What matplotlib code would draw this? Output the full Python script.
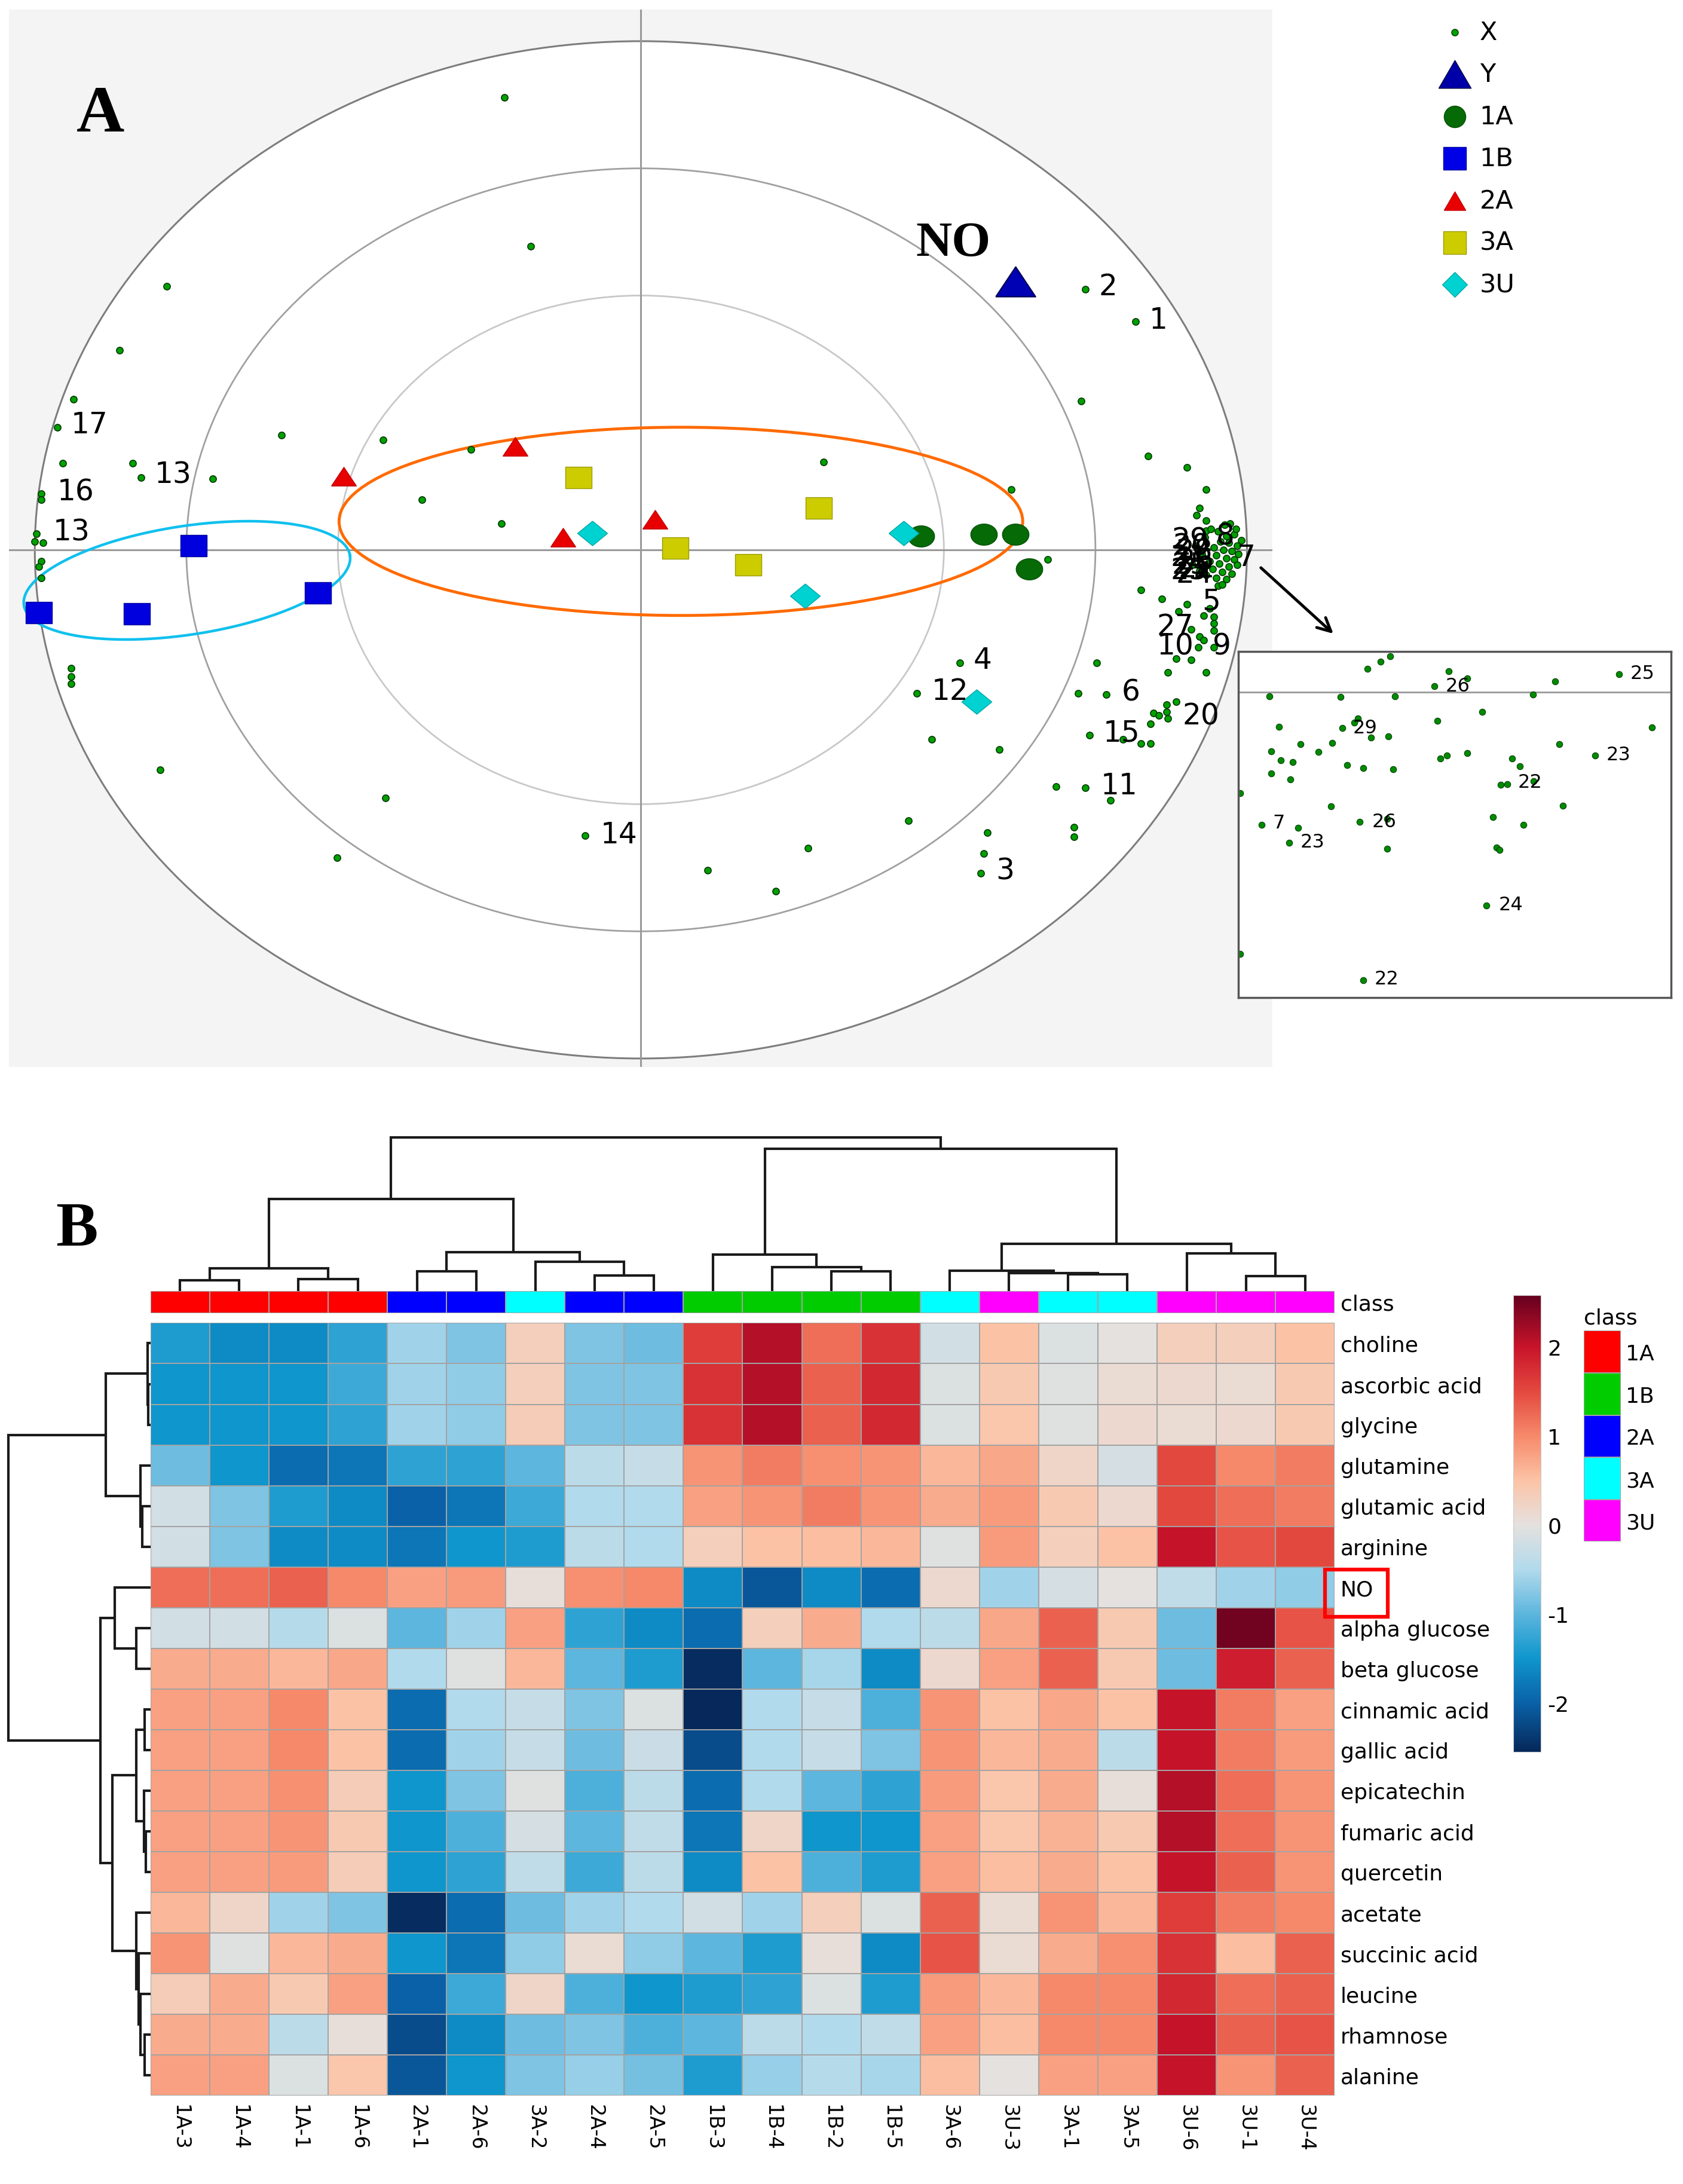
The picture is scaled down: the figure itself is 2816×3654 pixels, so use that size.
"""Loading plot (A) and clustered heatmap (B)."""

import numpy as np
import matplotlib
matplotlib.use("Agg")
import matplotlib.pyplot as plt
from matplotlib.patches import Ellipse, Rectangle
from matplotlib.colors import LinearSegmentedColormap, ListedColormap, Normalize
from matplotlib.cm import ScalarMappable
from matplotlib import font_manager

plt.rcParams["axes.unicode_minus"] = False

# ── Panel A: loadings of X variables (p1, p2) ──────────────────────────
x_var_p1 = [
    -0.225, -0.182, -0.782, -0.860, -0.936, -0.963, -0.954, -0.839, -0.825, -0.706,
    -0.593, -0.425, -0.989, -0.989, -0.997, -1.000, -0.986, -0.989, -0.993, -0.989,
    -0.940, -0.940, -0.940, -0.793, -0.361, -0.280, -0.230, -0.421, -0.501, -0.092,
    0.110, 0.223, 0.276, 0.301, 0.611, 0.671, 0.733, 0.816, 0.726, 0.837,
    0.901, 0.933, 0.922, 0.917, 0.933, 0.933, 0.526, 0.455, 0.480, 0.591,
    0.441, 0.572, 0.566, 0.561, 0.715, 0.715, 0.685, 0.733, 0.775, 0.740,
    0.795, 0.825, 0.841, 0.841, 0.846, 0.855, 0.867, 0.869, 0.867, 0.883,
    0.722, 0.768, 0.752, 0.869, 0.933, 0.883, 0.908, 0.920, 0.945, 0.922,
    0.929, 0.908, 0.945, 0.945, 0.945, 0.952, 0.959, 0.825, 0.860, 0.901,
    0.887, 0.929, 0.938,
    0.963, 0.972, 0.952, 0.966, 0.979, 0.956, 0.970, 0.984, 0.945, 0.961,
    0.975, 0.986, 0.949, 0.966, 0.979, 0.938, 0.954, 0.970, 0.984, 0.943,
    0.959, 0.975, 0.933, 0.949, 0.966, 0.922, 0.910, 0.926, 0.915, 0.931,
    0.940, 0.982, 0.991,
]
x_var_p2 = [
    0.890, 0.597, 0.518, 0.392, 0.296, 0.241, 0.170, 0.170, 0.142, 0.140,
    0.225, 0.216, 0.110, 0.099, 0.032, 0.016, 0.014, -0.022, -0.033, -0.055,
    -0.233, -0.249, -0.263, -0.433, 0.099, 0.197, 0.052, -0.488, -0.605, -0.562,
    -0.630, -0.671, -0.586, 0.173, 0.118, -0.019, 0.512, 0.449, 0.293, 0.184,
    0.162, 0.118, 0.082, 0.068, 0.058, 0.038, -0.222, -0.282, -0.373, -0.392,
    -0.532, -0.556, -0.597, -0.636, -0.545, -0.564, -0.466, -0.468, -0.493, -0.364,
    -0.373, -0.381, -0.381, -0.342, -0.321, -0.326, -0.318, -0.332, -0.304, -0.299,
    -0.282, -0.285, -0.222, -0.241, -0.241, -0.214, -0.216, -0.192, -0.192, -0.170,
    -0.178, -0.156, -0.132, -0.145, -0.159, -0.071, -0.068, -0.079, -0.096, -0.107,
    -0.121, -0.129, -0.115,
    0.049, 0.052, 0.036, 0.027, 0.030, 0.016, 0.014, 0.008, 0.005, 0.000,
    -0.003, -0.008, -0.011, -0.016, -0.019, -0.022, -0.027, -0.033, -0.030, -0.038,
    -0.044, -0.047, -0.049, -0.055, -0.058, -0.041, -0.030, -0.008, 0.008, 0.025,
    0.041, 0.041, 0.019,
]

var_labels = ["17", "13", "16", "13", "2", "1", "4", "12", "6", "15", "20", "11",
              "14", "3", "27", "10", "9", "5", "7", "8", "29", "20", "28", "21",
              "26", "25", "22", "23", "24"]
var_label_p1 = [-0.940, -0.802, -0.963, -0.970, 0.756, 0.839, 0.549, 0.480, 0.793,
                0.763, 0.894, 0.759, -0.067, 0.586, 0.851, 0.851, 0.943, 0.926,
                0.984, 0.949, 0.876, 0.878, 0.883, 0.874, 0.885, 0.876, 0.887,
                0.874, 0.883]
var_label_p2 = [0.247, 0.148, 0.115, 0.036, 0.518, 0.452, -0.216, -0.277, -0.279,
                -0.359, -0.326, -0.463, -0.559, -0.630, -0.151, -0.189, -0.189,
                -0.101, -0.014, 0.027, 0.019, 0.008, -0.003, -0.014, -0.022,
                -0.030, -0.036, -0.041, -0.047]

# Y variable (NO)
y_p1, y_p2 = 0.618, 0.527

# class scores
g1a_p1 = [0.462, 0.566, 0.618, 0.641]
g1a_p2 = [0.027, 0.030, 0.030, -0.038]
g1b_p1 = [-0.738, -0.993, -0.832, -0.533]
g1b_p2 = [0.008, -0.123, -0.126, -0.085]
g2a_p1 = [-0.490, -0.207, -0.129, 0.023]
g2a_p2 = [0.145, 0.203, 0.025, 0.060]
g3a_p1 = [-0.103, 0.057, 0.177, 0.294]
g3a_p2 = [0.142, 0.003, -0.030, 0.082]
g3u_p1 = [-0.080, 0.271, 0.434, 0.554]
g3u_p2 = [0.033, -0.090, 0.033, -0.299]

# zoomed inset of the right-hand cluster
ins_p1 = [0.9350, 0.9328, 0.9298, 0.9486, 0.9529, 0.9732, 0.9879, 0.9453, 0.9071, 0.9236,
          0.9361, 0.9680, 0.9563, 0.9955, 0.9459, 0.9093, 0.9240, 0.9276, 0.9268, 0.9306,
          0.9346, 0.9143, 0.9216, 0.9075, 0.9184, 0.9097, 0.9125, 0.9251, 0.9288, 0.9358,
          0.9075, 0.9120, 0.9481, 0.9467, 0.9529, 0.9632, 0.9650, 0.9742, 0.9824, 0.9606,
          0.9621, 0.9682, 0.9003, 0.9214, 0.9750, 0.9053, 0.9138, 0.9117, 0.9280, 0.9343,
          0.9588, 0.9658, 0.9343, 0.9596, 0.9603, 0.9573, 0.9003, 0.9288]
ins_p2 = [0.0104, 0.0088, 0.0067, 0.0061, 0.0040, 0.0031, 0.0052, 0.0017, -0.0011, -0.0014,
          -0.0011, -0.0006, -0.0056, -0.0101, -0.0083, -0.0099, -0.0104, -0.0076, -0.0087, -0.0131,
          -0.0127, -0.0150, -0.0146, -0.0171, -0.0173, -0.0197, -0.0201, -0.0210, -0.0219, -0.0222,
          -0.0235, -0.0252, -0.0183, -0.0192, -0.0175, -0.0192, -0.0213, -0.0150, -0.0183, -0.0268,
          -0.0265, -0.0256, -0.0291, -0.0330, -0.0327, -0.0382, -0.0391, -0.0435, -0.0375, -0.0366,
          -0.0361, -0.0382, -0.0451, -0.0449, -0.0456, -0.0616, -0.0756, -0.0831]
ins_labels = ["25", "26", "29", "23", "22", "7", "26", "23", "24", "22"]
ins_label_p1 = [0.9905, 0.9479, 0.9264, 0.9850, 0.9646, 0.9079, 0.9308, 0.9142, 0.9601, 0.9314]
ins_label_p2 = [0.0054, 0.0019, -0.0103, -0.0180, -0.0259, -0.0377, -0.0373, -0.0432, -0.0613, -0.0828]

# ── Panel B: heatmap ───────────────────────────────────────────────────
metabolites = ["choline", "ascorbic acid", "glycine", "glutamine", "glutamic acid",
               "arginine", "NO", "alpha glucose", "beta glucose", "cinnamic acid",
               "gallic acid", "epicatechin", "fumaric acid", "quercetin", "acetate",
               "succinic acid", "leucine", "rhamnose", "alanine"]
samples = ["1A-3", "1A-4", "1A-1", "1A-6", "2A-1", "2A-6", "3A-2", "2A-4", "2A-5",
           "1B-3", "1B-4", "1B-2", "1B-5", "3A-6", "3U-3", "3A-1", "3A-5", "3U-6",
           "3U-1", "3U-4"]
sample_class = ["1A", "1A", "1A", "1A", "2A", "2A", "3A", "2A", "2A", "1B", "1B",
                "1B", "1B", "3A", "3U", "3A", "3A", "3U", "3U", "3U"]
class_names = ["1A", "1B", "2A", "3A", "3U"]

zscores = [
    [-1.4, -1.6, -1.6, -1.3, -0.6, -0.8, 0.3, -0.8, -0.9, 1.6, 2.1, 1.2, 1.7, -0.2, 0.5, -0.1, 0.0, 0.3, 0.3, 0.5],
    [-1.5, -1.5, -1.5, -1.2, -0.6, -0.7, 0.3, -0.8, -0.8, 1.7, 2.1, 1.3, 1.8, -0.1, 0.4, -0.05, 0.1, 0.15, 0.1, 0.4],
    [-1.5, -1.5, -1.5, -1.3, -0.6, -0.7, 0.35, -0.8, -0.8, 1.7, 2.1, 1.3, 1.8, -0.1, 0.45, -0.05, 0.15, 0.1, 0.15, 0.4],
    [-0.9, -1.5, -1.9, -1.8, -1.3, -1.3, -1.0, -0.4, -0.3, 0.9, 1.1, 0.95, 0.9, 0.6, 0.75, 0.2, -0.15, 1.5, 1.0, 1.1],
    [-0.2, -0.8, -1.4, -1.6, -2.0, -1.8, -1.2, -0.5, -0.5, 0.8, 0.9, 1.1, 0.9, 0.7, 0.85, 0.4, 0.15, 1.5, 1.2, 1.1],
    [-0.2, -0.8, -1.6, -1.6, -1.8, -1.5, -1.4, -0.4, -0.5, 0.3, 0.5, 0.55, 0.6, -0.05, 0.85, 0.3, 0.5, 2.0, 1.4, 1.5],
    [1.2, 1.2, 1.3, 1.0, 0.8, 0.85, 0.05, 0.95, 1.0, -1.6, -2.1, -1.6, -1.9, 0.15, -0.6, -0.15, 0.0, -0.35, -0.6, -0.7],
    [-0.2, -0.2, -0.45, -0.1, -1.0, -0.6, 0.8, -1.3, -1.6, -1.9, 0.3, 0.7, -0.5, -0.4, 0.75, 1.3, 0.4, -0.9, 2.5, 1.4],
    [0.7, 0.7, 0.6, 0.75, -0.5, -0.05, 0.6, -1.0, -1.4, -2.5, -1.0, -0.55, -1.6, 0.15, 0.8, 1.3, 0.4, -0.9, 1.9, 1.3],
    [0.8, 0.8, 1.0, 0.5, -1.9, -0.5, -0.3, -0.8, -0.1, -2.6, -0.5, -0.3, -1.1, 0.9, 0.5, 0.75, 0.5, 2.0, 1.1, 0.8],
    [0.8, 0.8, 1.0, 0.5, -1.9, -0.6, -0.3, -0.9, -0.25, -2.2, -0.5, -0.3, -0.8, 0.9, 0.6, 0.7, -0.4, 2.0, 1.1, 0.85],
    [0.8, 0.8, 0.95, 0.35, -1.5, -0.8, -0.05, -1.1, -0.4, -1.9, -0.5, -1.0, -1.3, 0.85, 0.45, 0.7, 0.05, 2.1, 1.2, 0.9],
    [0.8, 0.8, 0.9, 0.4, -1.5, -1.1, -0.15, -1.0, -0.35, -1.8, 0.2, -1.5, -1.5, 0.8, 0.45, 0.65, 0.4, 2.1, 1.2, 0.9],
    [0.8, 0.8, 0.85, 0.35, -1.5, -1.3, -0.35, -1.2, -0.4, -1.6, 0.5, -1.1, -1.4, 0.8, 0.55, 0.7, 0.5, 2.0, 1.3, 0.9],
    [0.6, 0.2, -0.6, -0.8, -2.5, -1.9, -0.9, -0.6, -0.5, -0.2, -0.6, 0.3, -0.1, 1.3, 0.1, 0.9, 0.6, 1.6, 1.1, 1.0],
    [0.9, -0.05, 0.6, 0.7, -1.5, -1.8, -0.7, 0.1, -0.7, -1.0, -1.4, 0.05, -1.6, 1.4, 0.1, 0.7, 0.95, 1.7, 0.55, 1.3],
    [0.35, 0.7, 0.4, 0.8, -2.0, -1.2, 0.2, -1.1, -1.5, -1.4, -1.3, -0.1, -1.4, 0.85, 0.6, 1.0, 1.0, 1.8, 1.2, 1.3],
    [0.7, 0.7, -0.4, 0.05, -2.2, -1.6, -0.9, -0.8, -1.1, -1.0, -0.4, -0.5, -0.35, 0.8, 0.55, 1.0, 1.0, 2.0, 1.3, 1.4],
    [0.8, 0.8, -0.1, 0.45, -2.1, -1.5, -0.8, -0.65, -0.85, -1.4, -0.65, -0.45, -0.55, 0.55, 0.0, 0.8, 0.8, 2.0, 0.9, 1.3],
]

# dendrograms: (child a, child b, merge height); leaves are 0..n-1 in display order
col_merges = [
    (0, 1, 7.7), (2, 3, 8.7), (20, 21, 16.2), (4, 5, 14.2), (7, 8, 11.0),
    (6, 24, 21.0), (23, 25, 28.0), (22, 26, 66.0), (11, 12, 14.0), (10, 28, 17.3),
    (9, 29, 26.0), (15, 16, 11.8), (14, 31, 12.8), (13, 32, 14.6), (18, 19, 10.5),
    (17, 34, 26.9), (33, 35, 34.0), (30, 36, 102.0), (27, 37, 110.3),
]
row_merges = [
    (1, 2, 1.4), (0, 19, 2.1), (4, 5, 6.0), (3, 21, 7.1), (20, 22, 32.2),
    (7, 8, 10.0), (6, 24, 25.7), (9, 10, 4.0), (12, 13, 3.5), (11, 27, 4.8),
    (26, 28, 10.0), (17, 18, 4.0), (16, 30, 7.0), (15, 31, 8.6), (14, 32, 10.0),
    (29, 33, 27.2), (25, 34, 35.8), (23, 35, 102.0),
]

# ── Style ──────────────────────────────────────────────────────────────
SERIF = ["Liberation Serif", "DejaVu Serif"]
SANS = ["DejaVu Sans"]
_names = {f.name for f in font_manager.fontManager.ttflist}
if "Liberation Sans Narrow" in _names:
    HEAT_FONT, HEAT_SIZE, COL_SIZE = ["Liberation Sans Narrow"], 31, 29
else:
    HEAT_FONT, HEAT_SIZE, COL_SIZE = ["DejaVu Sans"], 26, 24

CLASS_COLORS = {"1A": "#ff0000", "1B": "#00cc00", "2A": "#0000ff",
                "3A": "#00ffff", "3U": "#ff00ff"}

VMIN, VMAX = -2.55, 2.58
_anchors = [(-2.55, "#06285a"), (-2.0, "#0a62a8"), (-1.5, "#0f96cc"),
            (-1.0, "#5db6dd"), (-0.5, "#b1daec"), (0.0, "#e5e1df"),
            (0.5, "#fcc3a6"), (1.0, "#f68a6b"), (1.5, "#e4493f"),
            (2.0, "#c8142a"), (2.58, "#67001f")]
CMAP = LinearSegmentedColormap.from_list(
    "heat", [((v - VMIN) / (VMAX - VMIN), c) for v, c in _anchors])
NORM = Normalize(VMIN, VMAX)

# custom marker shapes (plot in panel A is stretched horizontally)
_t = np.linspace(0, 2 * np.pi, 48)
M_TRI = [(-1, -0.75), (1, -0.75), (0, 0.75), (-1, -0.75)]
M_OVAL = list(zip(np.cos(_t), 0.8 * np.sin(_t)))
M_RECT = [(-1, -0.82), (1, -0.82), (1, 0.82), (-1, 0.82), (-1, -0.82)]
M_DIA = [(0, 0.82), (1, 0), (0, -0.82), (-1, 0), (0, 0.82)]
M_TRI_L = [(-1, -0.86), (1, -0.86), (0, 0.86), (-1, -0.86)]
M_DIA_L = [(0, 1), (1, 0), (0, -1), (-1, 0), (0, 1)]

GW, GH = 1208.0, 1568.0


def box(x0, y0, x1, y1):
    """Rectangle on the reference grid -> figure fraction."""
    return [x0 / GW, 1 - y1 / GH, (x1 - x0) / GW, (y1 - y0) / GH]


def draw_dendro(ax, merges, n, vertical):
    pos = {i: i + 0.5 for i in range(n)}
    hgt = {i: 0.0 for i in range(n)}
    for k, (a, b, h) in enumerate(merges):
        xs = [pos[a], pos[a], pos[b], pos[b]]
        ys = [hgt[a], h, h, hgt[b]]
        if vertical:
            ax.plot(xs, ys, color="#1a1a1a", lw=3, solid_capstyle="butt",
                    solid_joinstyle="miter", clip_on=False)
        else:
            ax.plot(ys, xs, color="#1a1a1a", lw=3, solid_capstyle="butt",
                    solid_joinstyle="miter", clip_on=False)
        pos[n + k] = (pos[a] + pos[b]) / 2
        hgt[n + k] = h


fig = plt.figure(figsize=(28.16, 36.55), dpi=100, facecolor="white")

# ── Panel A ────────────────────────────────────────────────────────────
ax = fig.add_axes(box(6.5, 7.5, 913.5, 766))
ax.set_facecolor("#f4f4f4")
ax.set_xlim(-1.0425, 1.0425)
ax.set_ylim(-1.016, 1.0616)
for s in ax.spines.values():
    s.set_visible(False)
ax.set_xticks([])
ax.set_yticks([])

ax.add_patch(Ellipse((0, 0), 2.0, 2.0, fc="white", ec="#7d7d7d", lw=2.2, zorder=1))
ax.add_patch(Ellipse((0, 0), 1.5, 1.5, fill=False, ec="#a0a0a0", lw=2.0, zorder=1.1))
ax.add_patch(Ellipse((0, 0), 1.0, 1.0, fill=False, ec="#c8c8c8", lw=2.0, zorder=1.1))
ax.axhline(0, color="#9a9a9a", lw=2.2, zorder=1.2)
ax.axvline(0, color="#9a9a9a", lw=2.2, zorder=1.2)

# group ellipses
ax.add_patch(Ellipse((0.066, 0.056), 1.128, 0.37, fill=False, ec="#ff6a00", lw=3.5, zorder=3))
_tt = np.linspace(0, 2 * np.pi, 240)
ax.plot(-0.749 + 0.269 * np.cos(_tt) - 0.0136 * np.sin(_tt),
        -0.060 + 0.049 * np.cos(_tt) + 0.1055 * np.sin(_tt),
        color="#10c0ee", lw=3.2, zorder=3)

ax.plot(x_var_p1, x_var_p2, ls="none", marker="o", ms=8, mfc="#00a000",
        mec="#003800", mew=1.2, zorder=4)

ax.plot(g1a_p1, g1a_p2, ls="none", marker=M_OVAL, ms=32, mfc="#066a06", mec="#045004", mew=1, zorder=5)
ax.plot(g1b_p1, g1b_p2, ls="none", marker=M_RECT, ms=32, mfc="#0000de", mec="#0000a0", mew=1, zorder=5)
ax.plot(g2a_p1, g2a_p2, ls="none", marker=M_TRI, ms=30, mfc="#e80000", mec="#c00000", mew=1, zorder=5)
ax.plot(g3a_p1, g3a_p2, ls="none", marker=M_RECT, ms=32, mfc="#cccc00", mec="#9a9a00", mew=1, zorder=5)
ax.plot(g3u_p1, g3u_p2, ls="none", marker=M_DIA, ms=36, mfc="#00d2d2", mec="#00a8a8", mew=1, zorder=5)
ax.plot([y_p1], [y_p2], ls="none", marker=M_TRI, ms=48, mfc="#0000b4", mec="#000050", mew=1.5, zorder=5)
ax.annotate("NO", xy=(y_p1, y_p2), xytext=(-75, 46), textcoords="offset points",
            ha="center", va="center", fontsize=60, fontweight="bold", family=SERIF, zorder=6)

for t, px, py in zip(var_labels, var_label_p1, var_label_p2):
    ax.text(px, py, t, fontsize=35, ha="left", va="center", family=SANS, zorder=6)

fig.text(72 / GW, 1 - 83 / GH, "A", ha="center", va="center", fontsize=80,
         fontweight="bold", family=SERIF)

# legend
ax_leg = fig.add_axes(box(1015, 5, 1110, 222))
ax_leg.set_xlim(1015, 1110)
ax_leg.set_ylim(222, 5)
ax_leg.axis("off")
leg_items = [
    ("X", "o", 8, "#00a000", "#003800"),
    ("Y", M_TRI_L, 39, "#0000a8", "#000040"),
    ("1A", "o", 26, "#066a06", "#045004"),
    ("1B", "s", 27, "#0000e6", "#0000a0"),
    ("2A", M_TRI_L, 26, "#e80000", "#c00000"),
    ("3A", "s", 27, "#cccc00", "#9a9a00"),
    ("3U", M_DIA_L, 30, "#00d2d2", "#00a8a8"),
]
for i, (name, mk, ms, fc, ec) in enumerate(leg_items):
    yy = 23.6 + i * 30.2
    ax_leg.plot([1044], [yy], marker=mk, ms=ms, mfc=fc, mec=ec, mew=1, ls="none")
    ax_leg.text(1062, yy, name, fontsize=31, ha="left", va="center", family=SANS)

# inset
ax_in = fig.add_axes(box(889, 468, 1199.5, 716.5))
ax_in.set_facecolor("white")
ax_in.set_xlim(0.90, 1.00)
ax_in.set_ylim(-0.0882, 0.0118)
ax_in.set_xticks([])
ax_in.set_yticks([])
for s in ax_in.spines.values():
    s.set_edgecolor("#555555")
    s.set_linewidth(2.5)
ax_in.axhline(0, color="#a0a0a0", lw=2.2)
ax_in.plot(ins_p1, ins_p2, ls="none", marker="o", ms=7.5, mfc="#008a00",
           mec="#004000", mew=0.8)
for t, px, py in zip(ins_labels, ins_label_p1, ins_label_p2):
    ax_in.text(px, py, t, fontsize=23, ha="left", va="center", family=SANS)

ax.annotate("", xy=(0.222, 1.048), xycoords=ax_in.transAxes,
            xytext=(1.021, -0.033), textcoords="data", annotation_clip=False,
            arrowprops=dict(arrowstyle="->", lw=3.5, color="black", mutation_scale=40))

# ── Panel B ────────────────────────────────────────────────────────────
n_rows, n_cols = len(metabolites), len(samples)
vals = np.array(zscores)

ax_h = fig.add_axes(box(108, 950, 958, 1504.6))
ax_h.pcolormesh(vals, cmap=CMAP, norm=NORM, edgecolors="#a3a3a3", linewidth=1.3)
ax_h.set_xlim(0, n_cols)
ax_h.set_ylim(n_rows, 0)
for s in ax_h.spines.values():
    s.set_visible(False)
ax_h.yaxis.tick_right()
ax_h.set_yticks(np.arange(n_rows) + 0.5)
ax_h.set_yticklabels(metabolites, fontsize=HEAT_SIZE, family=HEAT_FONT)
ax_h.set_xticks(np.arange(n_cols) + 0.5)
ax_h.set_xticklabels(samples, rotation=-90, fontsize=COL_SIZE, family=HEAT_FONT)
ax_h.tick_params(axis="y", length=0, pad=7)
ax_h.tick_params(axis="x", length=0, pad=10)

# NO highlighted
ax_h.add_patch(Rectangle((19.84, 6.06), 1.06, 1.17, fill=False, ec="red", lw=4.5,
                         clip_on=False, transform=ax_h.transData))

# class bar
ax_c = fig.add_axes(box(108, 927, 958, 943))
codes = np.array([[class_names.index(c) for c in sample_class]])
class_cmap = ListedColormap([CLASS_COLORS[c] for c in class_names])
ax_c.pcolormesh(codes, cmap=class_cmap, vmin=-0.5, vmax=4.5,
                edgecolors="#a3a3a3", linewidth=1.3)
ax_c.set_xlim(0, n_cols)
ax_c.set_ylim(1, 0)
for s in ax_c.spines.values():
    s.set_visible(False)
ax_c.set_xticks([])
ax_c.yaxis.tick_right()
ax_c.set_yticks([0.5])
ax_c.set_yticklabels(["class"], fontsize=HEAT_SIZE, family=HEAT_FONT)
ax_c.tick_params(axis="y", length=0, pad=7)

# dendrograms
ax_cd = fig.add_axes(box(108, 810, 958, 927))
ax_cd.set_xlim(0, n_cols)
ax_cd.set_ylim(0, 117)
ax_cd.axis("off")
draw_dendro(ax_cd, col_merges, n_cols, vertical=True)

ax_rd = fig.add_axes(box(0, 950, 108, 1504.6))
ax_rd.set_xlim(108, 0)
ax_rd.set_ylim(n_rows, 0)
ax_rd.axis("off")
draw_dendro(ax_rd, row_merges, n_rows, vertical=False)

# colour key
cax = fig.add_axes(box(1086, 930, 1106, 1258))
cb = fig.colorbar(ScalarMappable(norm=NORM, cmap=CMAP), cax=cax, ticks=[-2, -1, 0, 1, 2])
cb.ax.set_yticklabels(["-2", "-1", "0", "1", "2"], fontsize=HEAT_SIZE, family=HEAT_FONT)
cb.ax.tick_params(length=0, pad=8)
cb.outline.set_edgecolor("#cccccc")
cb.outline.set_linewidth(0.8)

# class legend
ax_cl = fig.add_axes(box(1136.6, 955.6, 1163.3, 1107))
ax_cl.pcolormesh(np.arange(5).reshape(5, 1), cmap=class_cmap, vmin=-0.5, vmax=4.5,
                 edgecolors="#a3a3a3", linewidth=1.3)
ax_cl.set_xlim(0, 1)
ax_cl.set_ylim(5, 0)
for s in ax_cl.spines.values():
    s.set_visible(False)
ax_cl.set_xticks([])
ax_cl.yaxis.tick_right()
ax_cl.set_yticks(np.arange(5) + 0.5)
ax_cl.set_yticklabels(class_names, fontsize=HEAT_SIZE, family=HEAT_FONT)
ax_cl.tick_params(axis="y", length=0, pad=6)
ax_cl.text(0.0, 1.015, "class", transform=ax_cl.transAxes, ha="left", va="bottom",
           fontsize=HEAT_SIZE, family=HEAT_FONT)

fig.text(55 / GW, 1 - 883 / GH, "B", ha="center", va="center", fontsize=76,
         fontweight="bold", family=SERIF)

fig.savefig("out.png", dpi=100, facecolor="white")
